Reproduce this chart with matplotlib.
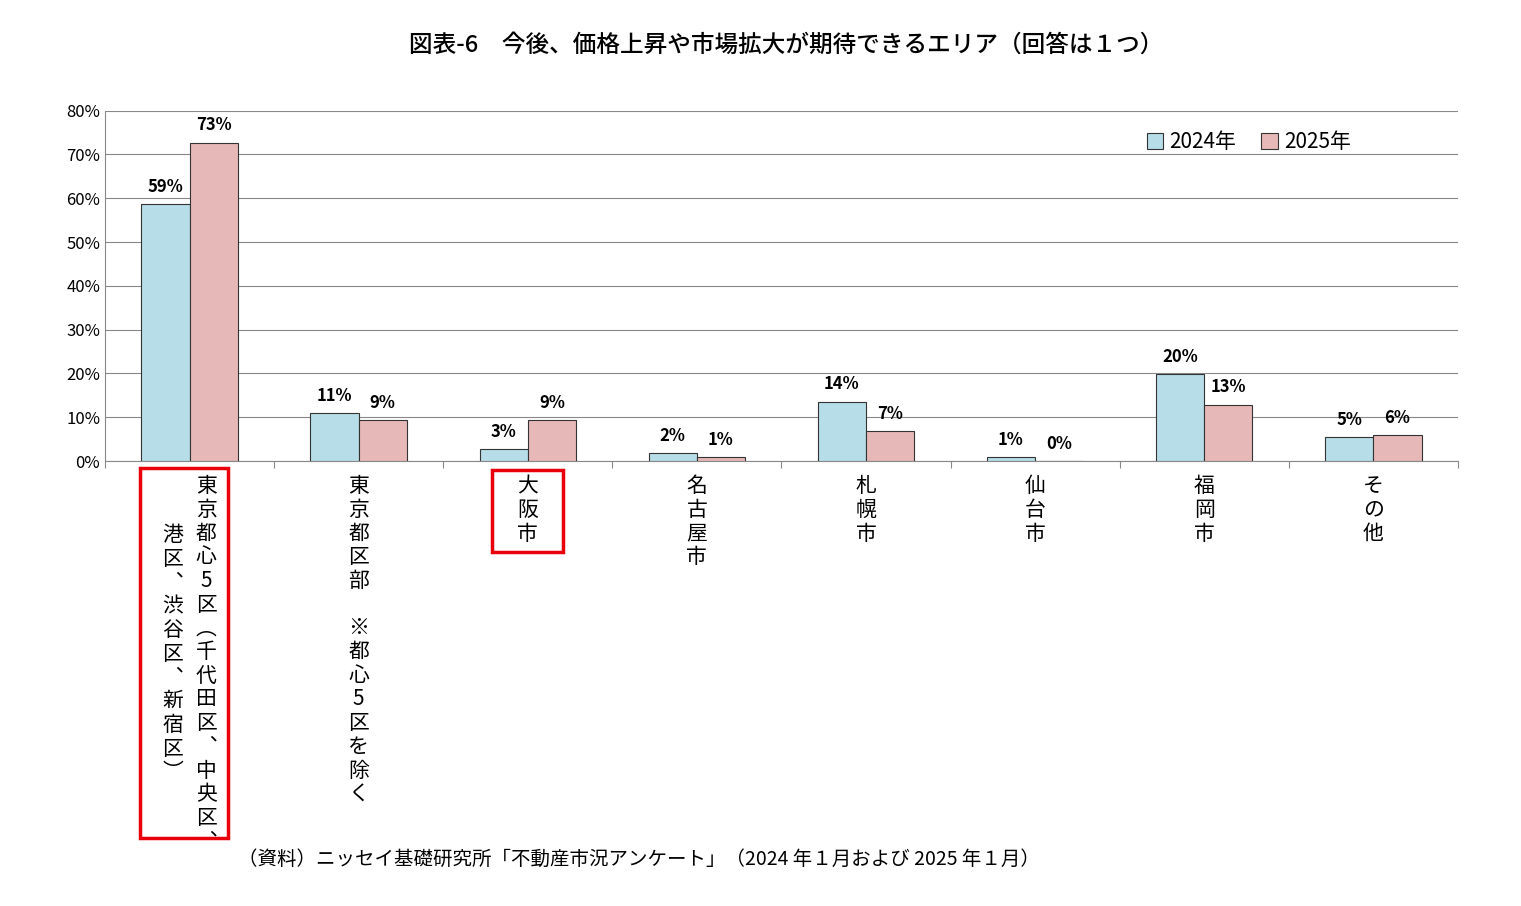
import matplotlib
matplotlib.use("Agg")
import matplotlib.pyplot as plt
import matplotlib.transforms as mtransforms
from matplotlib.patches import Rectangle
import numpy as np

plt.rcParams["font.family"] = "Noto Sans CJK JP"

categories_right = ["東京都心5区︵千代田区︑中央区︑", "東京都区部　※都心5区を除く", "大阪市", "名古屋市", "札幌市", "仙台市", "福岡市", "その他"]
categories_left = ["港区︑渋谷区︑新宿区︶", "", "", "", "", "", "", ""]
v2024 = [58.7, 10.9, 2.7, 1.8, 13.6, 0.9, 19.8, 5.4]
v2025 = [72.7, 9.4, 9.4, 0.9, 6.8, 0.0, 12.9, 5.9]
lab2024 = ["59%", "11%", "3%", "2%", "14%", "1%", "20%", "5%"]
lab2025 = ["73%", "9%", "9%", "1%", "7%", "0%", "13%", "6%"]
series = ["2024年", "2025年"]
yticks = [0, 10, 20, 30, 40, 50, 60, 70, 80]

fig = plt.figure(figsize=(15.21, 9.06), dpi=100)
ax = fig.add_axes([0.069, 0.491, 0.8895, 0.387])
x = np.arange(len(categories_right))
w = 0.285
b1 = ax.bar(x - w/2, v2024, w, color="#B7DEE8", edgecolor="#333333", linewidth=0.8, label=series[0], zorder=3)
b2 = ax.bar(x + w/2, v2025, w, color="#E6B9B8", edgecolor="#333333", linewidth=0.8, label=series[1], zorder=3)
for bars, labs in ((b1, lab2024), (b2, lab2025)):
    for r, l in zip(bars, labs):
        ax.annotate(l, (r.get_x() + r.get_width()/2, r.get_height()), xytext=(0, 6),
                    textcoords="offset points", ha="center", va="bottom", fontsize=12, fontweight="bold")
ax.set_xlim(-0.5, len(x) - 0.5)
ax.set_ylim(0, 80)
ax.set_yticks(yticks)
ax.set_yticklabels([f"{t}%" for t in yticks], fontsize=12)
ax.yaxis.grid(True, color="#888888", linewidth=0.8, zorder=0)
for s in ["top", "right"]:
    ax.spines[s].set_visible(False)
ax.spines["left"].set_color("#888888")
ax.spines["bottom"].set_color("#888888")
ax.set_xticks(np.arange(len(x) + 1) - 0.5)
ax.set_xticklabels([])
ax.tick_params(axis="x", length=5, color="#888888")
ax.tick_params(axis="y", length=0)

trans = mtransforms.blended_transform_factory(ax.transData, ax.transAxes)
for i in range(len(x)):
    r = "\n".join(categories_right[i])
    if categories_left[i]:
        ax.text(i + 0.1, -0.04, r, transform=trans, ha="center", va="top", fontsize=15, linespacing=1.1)
        ax.text(i - 0.1, -0.18, "\n".join(categories_left[i]), transform=trans, ha="center", va="top", fontsize=15, linespacing=1.1)
    else:
        ax.text(i, -0.04, r, transform=trans, ha="center", va="top", fontsize=15, linespacing=1.1)

# red highlight boxes
ax.add_patch(Rectangle((-0.29, -1.075), 0.52, 1.055, transform=trans, fill=False,
                       edgecolor="#E8000B", linewidth=2.5, clip_on=False))
ax.add_patch(Rectangle((2 - 0.21, -0.26), 0.42, 0.235, transform=trans, fill=False,
                       edgecolor="#E8000B", linewidth=2.5, clip_on=False))

ax.legend(loc="upper right", bbox_to_anchor=(0.935, 0.995), ncol=2, frameon=False, fontsize=15,
          handlelength=0.8, handleheight=0.8, handletextpad=0.3, columnspacing=1.2)

fig.text(0.517, 0.95, "図表-6　今後、価格上昇や市場拡大が期待できるエリア（回答は１つ）", ha="center", va="center", fontsize=17, fontweight="medium")
fig.text(0.42, 0.052, "（資料）ニッセイ基礎研究所「不動産市況アンケート」（2024 年１月および 2025 年１月）", ha="center", va="center", fontsize=14)
fig.savefig("out.png", dpi=100)
